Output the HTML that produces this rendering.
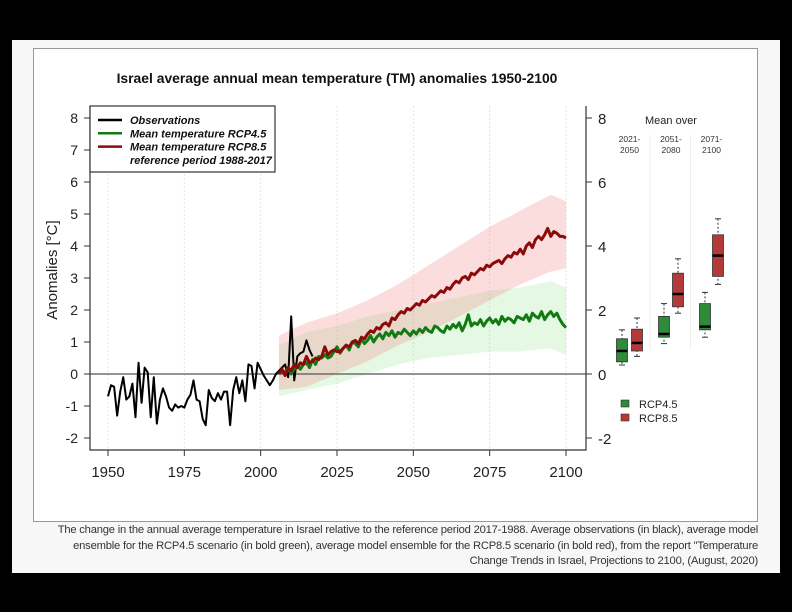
<!DOCTYPE html>
<html><head><meta charset="utf-8"><style>
body{margin:0;background:#000;width:792px;height:612px;overflow:hidden;font-family:"Liberation Sans",sans-serif}
#panel{position:absolute;left:12px;top:40px;width:768px;height:533px;background:#f7f7f7}
#chart{position:absolute;left:33px;top:48px;width:725px;height:474px;background:#fff;border:1px solid #999;box-sizing:border-box}
#cap{position:absolute;right:34px;top:523px;width:712px;text-align:right;font-family:"Liberation Sans Narrow","Liberation Sans",sans-serif;font-size:11.2px;letter-spacing:-0.2px;line-height:15.7px;color:#333}
svg{position:absolute;left:0;top:0}
</style></head><body>
<div id="panel"></div>
<div id="chart"></div>
<div id="cap">The change in the annual average temperature in Israel relative to the reference period 2017-1988. Average observations (in black), average model ensemble for the RCP4.5 scenario (in bold green), average model ensemble for the RCP8.5 scenario (in bold red), from the report "Temperature Change Trends in Israel, Projections to 2100, (August, 2020)</div>
<svg id="svg" width="792" height="612"></svg>
<script>
const obsStart=1950;
const obsValues=[-0.7,-0.35,-0.4,-1.3,-0.55,-0.1,-0.8,-0.7,-0.3,-1.35,0.35,-0.9,0.2,0.05,-1.35,-0.1,-1.55,-0.8,-0.45,-0.7,-1.05,-1.15,-0.95,-1.05,-1.0,-1.05,-0.8,-0.65,-0.2,-0.8,-0.85,-1.4,-1.6,-0.5,-0.75,-0.85,-0.6,-0.8,-0.55,-0.55,-1.6,-0.5,-0.1,-0.6,-0.2,-0.85,0.3,0.25,-0.45,0.35,0.15,-0.05,-0.2,-0.35,-0.2,0.0,0.1,0.2,0.3,-0.1,1.8,-0.2,0.55,0.65,0.7,1.05,0.75,0.55];
const scenStart=2006;
const rcp85Mean=[0.0,0.15,-0.05,0.2,0.1,0.3,0.2,0.35,0.3,0.55,0.35,0.4,0.5,0.45,0.55,0.85,0.6,0.7,0.75,0.7,0.7,0.8,0.9,0.85,1.0,1.05,0.95,1.15,1.1,1.25,1.35,1.3,1.45,1.4,1.55,1.6,1.5,1.75,1.7,1.85,1.95,1.9,2.05,2.0,2.1,2.2,2.15,2.3,2.25,2.35,2.45,2.4,2.5,2.6,2.55,2.7,2.65,2.8,2.9,2.85,3.0,3.05,2.95,3.15,3.1,3.2,3.3,3.25,3.4,3.35,3.45,3.5,3.55,3.45,3.6,3.7,3.65,3.8,3.75,3.9,3.75,4.0,4.1,3.95,4.2,4.3,4.2,4.35,4.55,4.3,4.45,4.4,4.3,4.3,4.25];
const rcp45Mean=[0.0,0.1,0.05,0.2,0.0,0.15,0.25,0.15,0.3,0.35,0.2,0.45,0.3,0.55,0.5,0.6,0.5,0.55,0.7,0.85,0.65,0.8,0.9,0.75,1.0,0.95,0.85,1.1,0.95,1.05,1.2,1.0,1.15,1.25,1.1,1.3,1.2,1.35,1.15,1.3,1.25,1.4,1.3,1.2,1.35,1.25,1.4,1.3,1.45,1.35,1.3,1.5,1.45,1.35,1.3,1.5,1.4,1.55,1.45,1.6,1.35,1.55,1.85,1.5,1.6,1.55,1.7,1.5,1.65,1.75,1.6,1.7,1.55,1.8,1.65,1.75,1.7,1.6,1.8,1.75,1.7,1.85,1.65,1.9,1.8,1.75,1.95,1.7,1.85,1.95,1.8,1.9,1.7,1.55,1.45];
const bandYears=[2006,2015,2025,2035,2045,2055,2065,2075,2085,2095,2100];
const rcp85Low=[-0.5,-0.4,0.0,0.4,0.9,1.3,1.8,2.3,2.8,3.2,3.3];
const rcp85High=[1.2,1.6,1.9,2.3,2.8,3.4,4.0,4.6,5.1,5.6,5.4];
const rcp45Low=[-0.7,-0.5,-0.3,0.0,0.3,0.5,0.6,0.7,0.7,0.8,0.6];
const rcp45High=[0.9,1.3,1.5,1.8,2.0,2.2,2.4,2.6,2.7,2.9,2.7];
const yTicks=[-2,-1,0,1,2,3,4,5,6,7,8];
const xTicks=[1950,1975,2000,2025,2050,2075,2100];
const rightTicks=[-2,0,2,4,6,8];
const boxPeriods=["2021-|2050","2051-|2080","2071-|2100"];
const boxStats45=[[0.28,0.38,0.72,1.1,1.38],[0.95,1.15,1.25,1.8,2.2],[1.15,1.38,1.48,2.2,2.55]];
const boxStats85=[[0.55,0.72,0.97,1.4,1.75],[1.9,2.1,2.5,3.15,3.6],[2.8,3.05,3.7,4.35,4.85]];

const S=document.getElementById('svg'),NS='http://www.w3.org/2000/svg';
function mk(t,a,p){const e=document.createElementNS(NS,t);for(const k in a)e.setAttribute(k,a[k]);(p||S).appendChild(e);return e;}
const X=yr=>108+(yr-1950)*(458/150);
const Y=v=>374-v*32;
const L=90,R=586,B=450,T=106;
for(const t of xTicks){const g=mk('line',{x1:X(t),x2:X(t),y1:T,y2:B,stroke:'#e4e4e4','stroke-dasharray':'2,2'});}
function band(lo,hi,fill,name){let d='';bandYears.forEach((y,i)=>d+=(i?'L':'M')+X(y)+','+Y(hi[i]));for(let i=bandYears.length-1;i>=0;i--)d+='L'+X(bandYears[i])+','+Y(lo[i]);const p=mk('path',{d:d+'Z',fill:fill});}
band(rcp45Low,rcp45High,'rgba(130,225,130,0.22)','rcp45-ensemble-band');
band(rcp85Low,rcp85High,'rgba(245,120,120,0.25)','rcp85-ensemble-band');
mk('line',{x1:L,x2:R,y1:Y(0),y2:Y(0),stroke:'#555','stroke-width':1.3});
function line(vals,start,col,w,name){const p=mk('polyline',{points:vals.map((v,i)=>X(start+i)+','+Y(v)).join(' '),fill:'none',stroke:col,'stroke-width':w,'stroke-linejoin':'round'});}
line(obsValues,obsStart,'#000',2,'observations-line');
line(rcp45Mean,scenStart,'#127a12',3,'rcp45-mean-line');
line(rcp85Mean,scenStart,'#8b0a0a',3,'rcp85-mean-line');
mk('polyline',{points:`${L},${T} ${L},${B} ${R},${B} ${R},${T}`,fill:'none',stroke:'#333','stroke-width':1.2});
for(const t of yTicks){mk('line',{x1:L-6,x2:L,y1:Y(t),y2:Y(t),stroke:'#333'});const e=mk('text',{x:L-12,y:Y(t)+5,'text-anchor':'end','font-size':14,fill:'#222'});e.textContent=t;}
for(const t of xTicks){mk('line',{x1:X(t),x2:X(t),y1:B,y2:B+6,stroke:'#333'});const e=mk('text',{x:X(t),y:B+27,'text-anchor':'middle','font-size':15,fill:'#222'});e.textContent=t;}
for(const t of rightTicks){mk('line',{x1:R,x2:R+6,y1:Y(t),y2:Y(t),stroke:'#333'});const e=mk('text',{x:R+12,y:Y(t)+6,'font-size':15,fill:'#222'});e.textContent=t;}
let e=mk('text',{x:337,y:83,'text-anchor':'middle','font-size':13.9,'font-weight':'bold',fill:'#111'});e.textContent='Israel average annual mean temperature (TM) anomalies 1950-2100';
e=mk('text',{x:0,y:0,transform:'translate(57,270) rotate(-90)','text-anchor':'middle','font-size':15,fill:'#222'});e.textContent='Anomalies [°C]';
const lg=mk('g',{});
mk('rect',{x:90,y:106,width:185,height:66,fill:'#fff',stroke:'#333','stroke-width':1.2},lg);
[['Observations','#000'],['Mean temperature RCP4.5','#127a12'],['Mean temperature RCP8.5','#8b0a0a'],['reference period 1988-2017',null]].forEach((r,i)=>{const y=124+i*13.3;if(r[1])mk('line',{x1:98,x2:122,y1:y-4,y2:y-4,stroke:r[1],'stroke-width':2.5},lg);const t=mk('text',{x:130,y:y,'font-size':11,'font-weight':'bold','font-style':'italic',fill:'#111'},lg);t.textContent=r[0];});
e=mk('text',{x:671,y:124,'text-anchor':'middle','font-size':11,fill:'#222'});e.textContent='Mean  over';
const cx45=[622,664,705],cx85=[637,678,718];
boxPeriods.forEach((p,i)=>{const c=(cx45[i]+cx85[i])/2;p.split('|').forEach((s,j)=>{const t=mk('text',{x:c,y:142+j*11,'text-anchor':'middle','font-size':8.5,fill:'#333'});t.textContent=s;});if(i>0)mk('line',{x1:c-21,x2:c-21,y1:135,y2:350,stroke:'#eee'});});
function box(st,cx,fill,name){const g=mk('g',{});
mk('line',{x1:cx,x2:cx,y1:Y(st[4]),y2:Y(st[0]),stroke:'#333','stroke-dasharray':'2,2'},g);
mk('line',{x1:cx-3,x2:cx+3,y1:Y(st[4]),y2:Y(st[4]),stroke:'#333'},g);mk('line',{x1:cx-3,x2:cx+3,y1:Y(st[0]),y2:Y(st[0]),stroke:'#333'},g);
mk('rect',{x:cx-5.5,y:Y(st[3]),width:11,height:Y(st[1])-Y(st[3]),fill:fill,stroke:'#333','stroke-width':0.8},g);
mk('line',{x1:cx-5.5,x2:cx+5.5,y1:Y(st[2]),y2:Y(st[2]),stroke:'#000','stroke-width':2.5},g);}
boxStats45.forEach((s,i)=>box(s,cx45[i],'#2e8b3a','box-rcp45'));
boxStats85.forEach((s,i)=>box(s,cx85[i],'#b43a3a','box-rcp85'));
[['RCP4.5','#2e8b3a'],['RCP8.5','#b43a3a']].forEach((r,i)=>{const y=404+i*14;mk('rect',{x:621,y:y-4,width:8,height:7,fill:r[1],stroke:'#333','stroke-width':0.6});const t=mk('text',{x:639,y:y+4,'font-size':11,fill:'#222'});t.textContent=r[0];});
</script>
</body></html>
